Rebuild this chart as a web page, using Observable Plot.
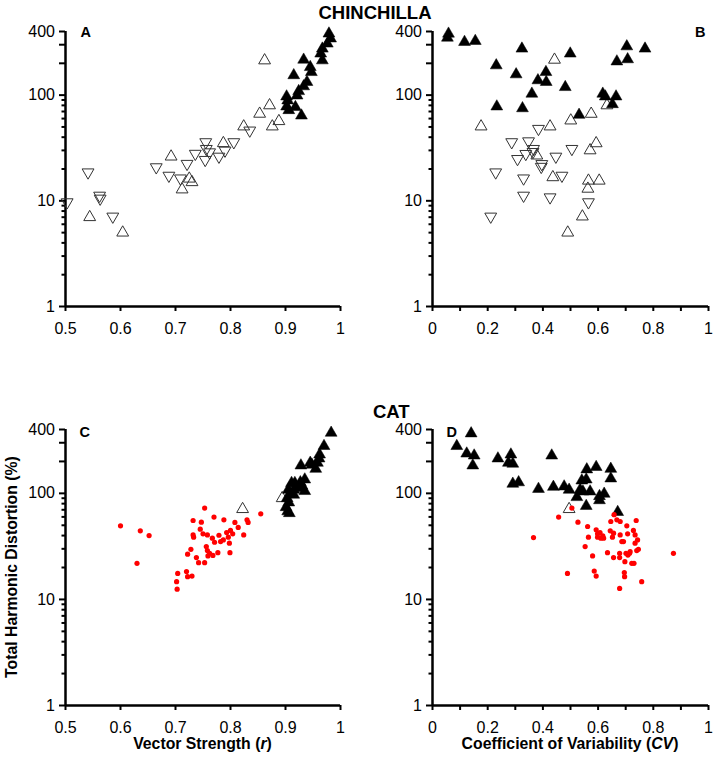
<!DOCTYPE html>
<html>
<head>
<meta charset="utf-8">
<script src="https://cdn.jsdelivr.net/npm/d3@7"></script>
<script src="https://cdn.jsdelivr.net/npm/@observablehq/plot@0.6"></script>
<style>
  html, body { margin: 0; padding: 0; background: #fff; }
  #chart { position: relative; width: 714px; height: 760px; font-family: "Liberation Sans", Arial, Helvetica, sans-serif; }
  #chart svg { position: absolute; overflow: visible; }
</style>
</head>
<body>
<div id="chart"></div>
<script>
// ---------- DATA (x, THD %) ----------
// Panel A: Chinchilla, vector strength
const A_filled = [[0.979,382],[0.982,343],[0.976,307],[0.967,275],[0.964,247],[0.967,213],[0.933,216],[0.945,184],[0.947,165],[0.915,154],[0.939,133],[0.933,121],[0.924,109],[0.921,99],[0.902,97],[0.904,89],[0.902,78],[0.906,72],[0.918,77],[0.929,64]];
const A_openUp = [[0.544,7.0],[0.604,5.0],[0.692,26.2],[0.725,16.2],[0.730,15.0],[0.712,12.8],[0.787,35.1],[0.824,50.5],[0.853,66.6],[0.871,80],[0.876,50.5],[0.888,56.7],[0.862,213]];
const A_openDown = [[0.503,9.7],[0.541,18.6],[0.562,11.2],[0.563,10.5],[0.586,7.1],[0.665,20.8],[0.688,17.3],[0.709,16.3],[0.721,22.4],[0.736,27.9],[0.755,35.9],[0.756,31],[0.754,24.4],[0.762,28.8],[0.779,26.2],[0.790,29.9],[0.806,35.9],[0.835,46.3]];
// Panel B: Chinchilla, coefficient of variability
const B_filled = [[0.058,381],[0.054,349],[0.116,318],[0.155,325],[0.324,275],[0.499,247],[0.231,191],[0.303,157],[0.411,165],[0.382,138],[0.412,133],[0.481,119],[0.360,103],[0.233,78],[0.326,75],[0.531,65],[0.617,103],[0.626,97],[0.665,97],[0.652,82],[0.704,289],[0.707,218],[0.668,208],[0.770,275]];
const B_openUp = [[0.442,216],[0.176,50.5],[0.426,50.5],[0.501,57.5],[0.575,66.5],[0.632,80],[0.593,35],[0.571,30],[0.436,16.7],[0.565,15.5],[0.604,15.5],[0.563,13],[0.543,7.1],[0.490,5.0],[0.378,26.8]];
const B_openDown = [[0.287,35.9],[0.308,24.9],[0.348,36.6],[0.338,27.8],[0.366,31],[0.364,29],[0.384,48],[0.396,22.3],[0.394,21],[0.447,26.2],[0.505,31],[0.469,17.3],[0.330,16.3],[0.330,11.2],[0.426,10.8],[0.565,9.7],[0.229,18.6],[0.211,7.1]];
// Panel C: Cat, vector strength
const C_filled = [[0.983,372],[0.970,279],[0.962,232],[0.961,213],[0.958,194],[0.945,194],[0.928,183],[0.955,170],[0.948,186],[0.935,135],[0.927,127],[0.917,125],[0.911,125],[0.930,118],[0.924,112],[0.905,108],[0.915,108],[0.935,105],[0.909,98.6],[0.915,97],[0.903,90],[0.906,82],[0.901,74],[0.904,67.6],[0.907,65]];
const C_openUp = [[0.822,71],[0.894,90]];
const C_red = [[0.600,49.4],[0.636,44.3],[0.652,40],[0.630,21.9],[0.702,14.7],[0.703,12.5],[0.704,17.6],[0.720,18.3],[0.722,16.4],[0.730,16.6],[0.722,26.7],[0.728,29.7],[0.732,40.6],[0.733,38.6],[0.732,55.5],[0.738,24.8],[0.742,22.2],[0.753,22.2],[0.745,46],[0.747,53.5],[0.753,72.6],[0.750,41.5],[0.758,40.6],[0.756,31.5],[0.758,28.9],[0.759,25.7],[0.762,27.2],[0.767,37.8],[0.768,26],[0.770,59.7],[0.771,34.6],[0.777,27.6],[0.779,40.3],[0.782,35.1],[0.787,36.4],[0.788,56.3],[0.793,42.7],[0.796,38.6],[0.798,33.9],[0.799,27.6],[0.800,44.7],[0.804,41.5],[0.808,53.2],[0.814,47.7],[0.824,40.6],[0.830,56.3],[0.832,53.2],[0.855,64.2]];
// Panel D: Cat, coefficient of variability
const D_filled = [[0.088,279],[0.140,367],[0.124,237],[0.151,227],[0.146,183],[0.237,213],[0.284,232],[0.275,194],[0.291,190],[0.291,123],[0.312,127],[0.384,110],[0.432,227],[0.438,115],[0.477,116],[0.495,108],[0.523,92],[0.541,132],[0.557,135],[0.559,168],[0.593,177],[0.545,104],[0.571,104],[0.557,76],[0.646,170],[0.646,138],[0.605,94],[0.622,99],[0.605,86],[0.671,66.6],[0.535,108]];
const D_openUp = [[0.495,71]];
const D_red = [[0.366,38.3],[0.457,59.7],[0.505,72.6],[0.527,53.5],[0.489,17.6],[0.562,48.7],[0.565,38.6],[0.553,31.5],[0.580,25.7],[0.593,45.3],[0.598,41.5],[0.607,42.7],[0.598,38.6],[0.610,37.8],[0.617,39.8],[0.620,37.8],[0.586,18.5],[0.593,16.6],[0.644,44.3],[0.646,54.3],[0.652,38.6],[0.656,42.1],[0.658,62.9],[0.668,56.3],[0.634,27.6],[0.656,24.8],[0.680,54.3],[0.680,40.6],[0.686,35.1],[0.678,27.2],[0.678,24.8],[0.678,12.7],[0.692,35.1],[0.695,17.9],[0.696,16.4],[0.701,27.2],[0.697,22.7],[0.704,49.4],[0.707,41.5],[0.714,27.2],[0.708,26.2],[0.716,28.2],[0.722,21.9],[0.730,21.9],[0.728,44.7],[0.734,40.6],[0.734,33.9],[0.743,36.4],[0.738,55.5],[0.740,28.9],[0.746,29.7],[0.758,14.7],[0.873,27.2]];

// ---------- TICKS / LABELS ----------
const yMajor = [1, 10, 100, 200, 300, 400];
const yLabelled = [1, 10, 100, 400];
const yMinor = [2,3,4,5,6,7,8,9,20,30,40,50,60,70,80,90];
const xTicksVS = [0.5, 0.6, 0.7, 0.8, 0.9, 1];
const xTicksCV = [0, 0.2, 0.4, 0.6, 0.8, 1];
const xMinorCV = [0.1, 0.3, 0.5, 0.7, 0.9];
const titles = ["CHINCHILLA", "CAT"];
const panelLetters = ["A", "B", "C", "D"];

// ---------- DRAWING ----------
const FONT = '"Liberation Sans", Arial, Helvetica, sans-serif';
const TICK_FS = 16;
const sqrt3 = Math.sqrt(3);
const triangleDown = {
  draw(context, size) {
    const y = -Math.sqrt(size / (sqrt3 * 3));
    context.moveTo(0, -y * 2);
    context.lineTo(-sqrt3 * y, y);
    context.lineTo(sqrt3 * y, y);
    context.closePath();
  }
};
const fmtX = d => String(Math.round(d * 10) / 10);

function panel({letter, xDomain, xTicks, xMinor, filled, openUp, openDown, red, left, top, height, marginTop, marginBottom, marginLeft, marginRight, letterDx, letterDy, letterRight}) {
  const marks = [
    Plot.ruleX([xDomain[0]], {stroke: "black", strokeWidth: 2.5}),
    Plot.ruleY([1], {stroke: "black", strokeWidth: 2.5}),
    Plot.axisY(yMajor, {tickSize: 6, strokeWidth: 2, label: null, tickFormat: () => ""}),
    Plot.axisY(yMinor, {tickSize: 3.5, strokeWidth: 2, label: null, tickFormat: () => ""}),
    Plot.text(yLabelled, {x: () => xDomain[0], y: d => d, text: d => String(d), dx: -10.5, textAnchor: "end", lineAnchor: "middle", fontSize: TICK_FS, fill: "black"}),
    Plot.axisX(xTicks, {tickSize: 5, tickPadding: 11, strokeWidth: 2, fontSize: TICK_FS, label: null, tickFormat: fmtX}),
  ];
  if (xMinor) marks.push(Plot.axisX(xMinor, {tickSize: 5, strokeWidth: 2, label: null, tickFormat: () => ""}));
  if (openDown) marks.push(Plot.dot(openDown, {x: d => d[0], y: d => d[1], symbol: triangleDown, r: 4.4, fill: "none", stroke: "#333", strokeWidth: 1}));
  if (openUp) marks.push(Plot.dot(openUp, {x: d => d[0], y: d => d[1], symbol: "triangle", r: 4.4, fill: "none", stroke: "#333", strokeWidth: 1}));
  if (filled) marks.push(Plot.dot(filled, {x: d => d[0], y: d => d[1], symbol: "triangle", r: 4.4, fill: "black", stroke: "black", strokeWidth: 0.5}));
  if (red) marks.push(Plot.dot(red, {x: d => d[0], y: d => d[1], r: 2.6, fill: "#ff0000", stroke: "none"}));
  marks.push(Plot.text([letter], {
    frameAnchor: letterRight ? "top-right" : "top-left",
    textAnchor: letterRight ? "end" : "start",
    lineAnchor: "top", dx: letterDx, dy: letterDy,
    fontSize: 14.5, fontWeight: "bold", fill: "black"
  }));
  const svg = Plot.plot({
    width: 357, height, marginTop, marginBottom, marginLeft, marginRight,
    x: {domain: xDomain},
    y: {type: "log", domain: [1, 400]},
    style: {fontFamily: FONT, fontSize: TICK_FS + "px", color: "black", background: "transparent", overflow: "visible"},
    marks
  });
  svg.style.left = left + "px";
  svg.style.top = top + "px";
  return svg;
}

const chart = document.getElementById("chart");
chart.append(
  panel({letter: panelLetters[0], xDomain: [0.5, 1], xTicks: xTicksVS, filled: A_filled, openUp: A_openUp, openDown: A_openDown,
    left: 0, top: 0, height: 345, marginTop: 31, marginBottom: 39, marginLeft: 65, marginRight: 17, letterDx: 15, letterDy: -4.5}),
  panel({letter: panelLetters[1], xDomain: [0, 1], xTicks: xTicksCV, xMinor: xMinorCV, filled: B_filled, openUp: B_openUp, openDown: B_openDown,
    left: 357, top: 0, height: 345, marginTop: 31, marginBottom: 39, marginLeft: 75, marginRight: 6, letterDx: -3, letterDy: -4.5, letterRight: true}),
  panel({letter: panelLetters[2], xDomain: [0.5, 1], xTicks: xTicksVS, filled: C_filled, openUp: C_openUp, red: C_red,
    left: 0, top: 380, height: 380, marginTop: 49, marginBottom: 55, marginLeft: 65, marginRight: 17, letterDx: 14, letterDy: -3}),
  panel({letter: panelLetters[3], xDomain: [0, 1], xTicks: xTicksCV, xMinor: xMinorCV, filled: D_filled, openUp: D_openUp, red: D_red,
    left: 357, top: 380, height: 380, marginTop: 49, marginBottom: 55, marginLeft: 75, marginRight: 6, letterDx: 14, letterDy: -3})
);

// Titles and axis labels (overlay)
const overlay = d3.select(chart).append("svg")
  .attr("width", 714).attr("height", 760)
  .style("left", "0px").style("top", "0px").style("pointer-events", "none")
  .attr("font-family", FONT).attr("font-weight", "bold").attr("fill", "black");
overlay.append("text").attr("x", 375).attr("y", 19).attr("text-anchor", "middle").attr("font-size", 18.5).text(titles[0]);
overlay.append("text").attr("x", 373).attr("y", 418).attr("text-anchor", "start").attr("font-size", 18.5).text(titles[1]);
overlay.append("text").attr("transform", "translate(17,567) rotate(-90)").attr("text-anchor", "middle").attr("font-size", 15.8)
  .text("Total Harmonic Distortion (%)");
const xl1 = overlay.append("text").attr("x", 202.5).attr("y", 749).attr("text-anchor", "middle").attr("font-size", 15.8);
xl1.append("tspan").text("Vector Strength (");
xl1.append("tspan").attr("font-style", "italic").text("r");
xl1.append("tspan").text(")");
const xl2 = overlay.append("text").attr("x", 570).attr("y", 749).attr("text-anchor", "middle").attr("font-size", 15.8);
xl2.append("tspan").text("Coefficient of Variability (");
xl2.append("tspan").attr("font-style", "italic").text("CV");
xl2.append("tspan").text(")");
</script>
</body>
</html>
